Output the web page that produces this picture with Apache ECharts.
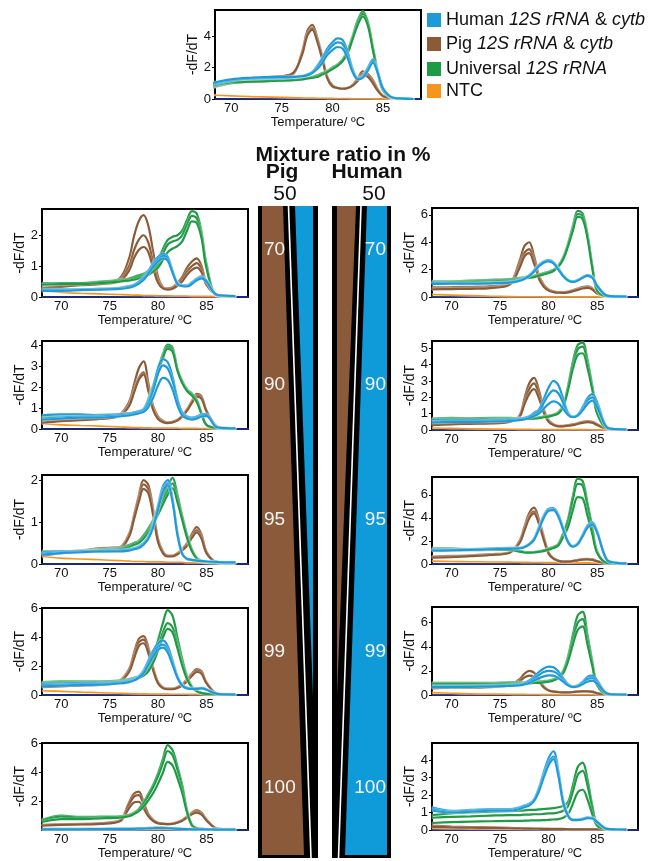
<!DOCTYPE html>
<html><head><meta charset="utf-8">
<script src="https://cdn.jsdelivr.net/npm/echarts@6/dist/echarts.min.js"></script>
<style>html,body{margin:0;padding:0;background:#fff}#c{width:652px;height:861px}</style>
</head><body><div id="c"></div>
<script>
// Temperature grid (°C)
const T = [68,70,72,74,76,77,77.5,78,78.5,79,79.5,80,80.5,81,81.5,82,82.5,83,83.5,84,84.5,85,86,87,88];
const xTicks = [70,75,80,85];

// ---- Reference panel (top) ----
const top_pig = [
 [0.7,1.0,1.15,1.3,1.5, 3.0,4.3,4.7,3.9,2.7, 1.4,0.85,0.7,0.65,0.7, 0.9,1.3,1.75,1.6,1.2, 0.6,0.2,0.05,0.02,0],
 [0.75,1.05,1.2,1.35,1.55, 2.9,4.1,4.5,3.75,2.6, 1.35,0.85,0.7,0.65,0.7, 0.85,1.2,1.6,1.5,1.1, 0.55,0.2,0.05,0.02,0],
 [0.8,1.1,1.25,1.4,1.6, 2.8,4.0,4.4,3.65,2.5, 1.3,0.8,0.7,0.65,0.7, 0.85,1.15,1.5,1.4,1.0, 0.5,0.18,0.05,0.02,0]];
const top_human = [
 [0.9,1.15,1.3,1.3,1.35, 1.45,1.55,1.7,2.1,2.6, 3.2,3.6,3.85,3.75,3.0, 1.9,1.35,1.45,2.0,2.5, 1.7,0.7,0.08,0.03,0],
 [0.95,1.2,1.3,1.35,1.4, 1.45,1.55,1.7,2.0,2.5, 3.0,3.4,3.6,3.5,2.8, 1.8,1.3,1.4,1.9,2.4, 1.65,0.68,0.08,0.03,0],
 [1.0,1.25,1.35,1.4,1.4, 1.45,1.5,1.65,1.9,2.3, 2.8,3.1,3.3,3.2,2.6, 1.7,1.25,1.35,1.8,2.3, 1.6,0.65,0.08,0.03,0]];
const top_uni = [
 [0.75,1.0,1.1,1.15,1.2, 1.3,1.35,1.4,1.5,1.65, 1.8,2.0,2.2,2.5,3.1, 4.0,5.0,5.55,4.9,3.3, 1.7,0.6,0.08,0.03,0],
 [0.8,1.05,1.1,1.15,1.2, 1.25,1.3,1.35,1.45,1.6, 1.75,1.95,2.15,2.45,3.0, 3.9,4.85,5.4,4.8,3.2, 1.65,0.55,0.08,0.03,0],
 [0.85,1.05,1.1,1.15,1.2, 1.25,1.3,1.35,1.4,1.55, 1.7,1.9,2.1,2.4,2.9, 3.8,4.7,5.25,4.65,3.1, 1.6,0.55,0.08,0.03,0]];
const top_ntc = [[0.25,0.2,0.15,0.12,0.09, 0.07,0.06,0.06,0.05,0.05, 0.04,0.04,0.03,0.03,0.03, 0.02,0.02,0.02,0.02,0.01, 0.01,0.01,0,0,0]];

// ---- Pig 70 ----
const L70_pig = [
 [0.3,0.35,0.4,0.45,0.6, 1.25,1.95,2.45,2.65,2.3, 1.45,0.65,0.32,0.28,0.32, 0.45,0.65,0.95,1.15,1.25, 1.0,0.45,0.08,0.05,0.03],
 [0.3,0.35,0.4,0.45,0.55, 1.0,1.5,1.85,2.0,1.75, 1.1,0.52,0.3,0.26,0.3, 0.4,0.58,0.82,1.0,1.1, 0.9,0.42,0.08,0.05,0.03],
 [0.28,0.33,0.38,0.42,0.5, 0.85,1.25,1.52,1.62,1.45, 0.92,0.46,0.28,0.24,0.27, 0.36,0.5,0.72,0.88,0.95, 0.8,0.4,0.08,0.05,0.03]];
const L70_human = [
 [0.25,0.25,0.25,0.27,0.3, 0.35,0.4,0.5,0.65,0.85, 1.1,1.3,1.4,1.3,0.85, 0.45,0.38,0.38,0.48,0.6, 0.67,0.54,0.08,0.04,0.03],
 [0.22,0.22,0.24,0.25,0.28, 0.33,0.38,0.47,0.6,0.8, 1.05,1.22,1.33,1.25,0.82, 0.44,0.36,0.36,0.45,0.57, 0.64,0.52,0.08,0.04,0.03],
 [0.2,0.2,0.22,0.24,0.26, 0.3,0.35,0.43,0.55,0.75, 0.98,1.15,1.25,1.18,0.78, 0.42,0.35,0.34,0.42,0.54, 0.6,0.5,0.08,0.04,0.03]];
const L70_uni = [
 [0.45,0.45,0.45,0.5,0.55, 0.6,0.65,0.7,0.75,0.85, 0.95,1.2,1.55,1.85,1.95, 2.0,2.15,2.5,2.78,2.7, 2.1,1.1,0.06,0.03,0.02],
 [0.4,0.45,0.45,0.48,0.52, 0.56,0.6,0.65,0.7,0.78, 0.88,1.05,1.4,1.7,1.8, 1.85,2.0,2.35,2.63,2.55, 2.0,1.0,0.06,0.03,0.02],
 [0.4,0.42,0.42,0.45,0.5, 0.53,0.56,0.6,0.65,0.72, 0.82,0.95,1.2,1.45,1.57, 1.65,1.8,2.15,2.45,2.4, 1.9,0.95,0.06,0.03,0.02]];
const L70_ntc = [[0.2,0.15,0.12,0.1,0.08, 0.07,0.06,0.06,0.05,0.05, 0.05,0.04,0.04,0.04,0.03, 0.03,0.03,0.03,0.02,0.02, 0.02,0.02,0.02,0.01,0.01]];

// ---- Human 70 ----
const R70_pig = [
 [0.7,0.72,0.75,0.8,1.05, 2.6,3.7,4.0,3.0,1.6, 0.9,0.55,0.42,0.36,0.35, 0.4,0.5,0.62,0.72,0.78, 0.65,0.3,0.05,0.02,0.02],
 [0.6,0.62,0.65,0.7,0.95, 2.3,3.2,3.5,2.65,1.45, 0.8,0.5,0.38,0.33,0.32, 0.36,0.45,0.56,0.66,0.72, 0.6,0.28,0.05,0.02,0.02],
 [0.55,0.58,0.6,0.65,0.9, 2.1,2.95,3.2,2.45,1.35, 0.75,0.47,0.36,0.31,0.3, 0.34,0.42,0.52,0.62,0.66, 0.55,0.26,0.05,0.02,0.02]];
const R70_human = [
 [1.0,1.0,1.0,1.05,1.1, 1.25,1.4,1.6,1.95,2.35, 2.6,2.7,2.55,2.1,1.6, 1.25,1.15,1.25,1.45,1.62, 1.45,0.85,0.1,0.04,0.03],
 [1.05,1.02,1.0,1.02,1.08, 1.2,1.35,1.55,1.9,2.3, 2.55,2.65,2.5,2.05,1.55, 1.22,1.12,1.22,1.42,1.58, 1.42,0.82,0.1,0.04,0.03],
 [0.95,0.98,0.98,1.0,1.05, 1.18,1.32,1.52,1.85,2.25, 2.5,2.6,2.45,2.0,1.52, 1.2,1.1,1.2,1.4,1.55, 1.4,0.8,0.1,0.04,0.03]];
const R70_uni = [
 [1.15,1.15,1.2,1.25,1.3, 1.4,1.45,1.5,1.55,1.65, 1.75,1.85,2.0,2.3,2.9, 3.9,5.2,6.3,6.1,4.6, 2.3,0.5,0.06,0.03,0.02],
 [1.1,1.1,1.15,1.2,1.25, 1.35,1.4,1.45,1.5,1.6, 1.7,1.8,1.95,2.25,2.8, 3.8,5.0,6.05,5.9,4.45, 2.2,0.48,0.06,0.03,0.02],
 [1.05,1.08,1.1,1.15,1.2, 1.3,1.35,1.4,1.45,1.55, 1.65,1.75,1.9,2.2,2.75, 3.7,4.85,5.85,5.7,4.3, 2.1,0.45,0.06,0.03,0.02]];
const R70_ntc = [[0.18,0.14,0.1,0.06,0.03, 0.02,0.02,0.02,0.02,0.02, 0.01,0.01,0.01,0.01,0.01, 0.01,0.01,0.01,0.01,0.01, 0.01,0.01,0.01,0.01,0.01]];

// ---- Pig 90 ----
const L90_pig = [
 [0.35,0.45,0.5,0.55,0.7, 1.3,2.1,2.9,3.25,2.2, 1.1,0.6,0.4,0.32,0.35, 0.45,0.65,0.95,1.35,1.68, 1.55,0.9,0.15,0.05,0.03],
 [0.3,0.4,0.45,0.5,0.65, 1.15,1.8,2.45,2.72,1.9, 0.95,0.5,0.35,0.3,0.33, 0.42,0.62,0.9,1.28,1.6, 1.5,0.88,0.15,0.05,0.03],
 [0.3,0.38,0.42,0.48,0.62, 1.1,1.72,2.35,2.62,1.82, 0.9,0.48,0.33,0.28,0.32, 0.4,0.6,0.88,1.25,1.54, 1.45,0.85,0.14,0.05,0.03]];
const L90_human = [
 [0.65,0.7,0.7,0.65,0.7, 0.75,0.8,0.85,0.95,1.3, 2.0,2.9,3.35,3.2,2.5, 1.45,0.8,0.6,0.55,0.6, 0.7,0.72,0.12,0.04,0.03],
 [0.5,0.55,0.6,0.6,0.65, 0.7,0.75,0.8,0.9,1.2, 1.85,2.65,3.05,2.9,2.3, 1.35,0.75,0.55,0.5,0.55, 0.65,0.68,0.12,0.04,0.03],
 [0.45,0.5,0.55,0.55,0.6, 0.65,0.7,0.75,0.82,1.05, 1.5,2.1,2.45,2.35,1.9, 1.15,0.65,0.5,0.45,0.5, 0.6,0.62,0.1,0.04,0.03]];
const L90_uni = [
 [0.6,0.6,0.65,0.68,0.7, 0.75,0.8,0.85,0.95,1.45, 2.1,2.9,3.6,4.05,3.9, 2.9,2.3,1.9,1.7,1.4, 0.75,0.2,0.05,0.03,0.02],
 [0.55,0.58,0.62,0.65,0.68, 0.72,0.77,0.82,0.92,1.4, 2.0,2.8,3.5,3.95,3.8, 2.85,2.25,1.85,1.65,1.35, 0.72,0.2,0.05,0.03,0.02],
 [0.5,0.55,0.6,0.62,0.65, 0.7,0.75,0.8,0.9,1.35, 1.95,2.7,3.4,3.85,3.7, 2.8,2.2,1.82,1.6,1.3, 0.7,0.2,0.05,0.03,0.02]];
const L90_ntc = [[0.25,0.2,0.17,0.14,0.1, 0.08,0.07,0.07,0.06,0.06, 0.05,0.05,0.05,0.04,0.04, 0.04,0.03,0.03,0.03,0.03, 0.02,0.02,0.02,0.02,0.02]];

// ---- Human 90 ----
const R90_pig = [
 [0.4,0.42,0.42,0.45,0.55, 0.9,1.9,2.85,3.2,2.45, 1.3,0.6,0.35,0.25,0.25, 0.3,0.35,0.42,0.5,0.55, 0.5,0.35,0.08,0.03,0.02],
 [0.35,0.38,0.4,0.42,0.52, 0.85,1.7,2.5,2.85,2.2, 1.2,0.55,0.33,0.24,0.24, 0.28,0.33,0.4,0.47,0.52, 0.48,0.33,0.08,0.03,0.02],
 [0.3,0.35,0.38,0.4,0.5, 0.8,1.55,2.2,2.5,1.95, 1.05,0.5,0.3,0.22,0.22, 0.26,0.3,0.37,0.44,0.48, 0.45,0.3,0.07,0.03,0.02]];
const R90_human = [
 [0.6,0.6,0.6,0.62,0.65, 0.7,0.75,0.85,1.05,1.25, 1.9,2.6,3.0,2.75,1.9, 1.05,0.8,0.95,1.4,1.95, 2.2,1.7,0.18,0.05,0.03],
 [0.5,0.55,0.55,0.58,0.6, 0.65,0.7,0.8,0.95,1.15, 1.65,2.15,2.43,2.25,1.65, 1.0,0.8,0.9,1.3,1.8, 2.0,1.55,0.17,0.05,0.03],
 [0.45,0.5,0.5,0.52,0.55, 0.6,0.65,0.72,0.85,1.0, 1.3,1.6,1.75,1.65,1.3, 0.92,0.78,0.88,1.2,1.6, 1.8,1.4,0.16,0.05,0.03]];
const R90_uni = [
 [0.7,0.75,0.72,0.75,0.75, 0.72,0.72,0.72,0.75,0.78, 0.82,0.88,0.95,1.1,1.5, 2.7,4.2,5.2,5.35,4.3, 2.7,1.1,0.1,0.03,0.02],
 [0.65,0.7,0.7,0.72,0.72, 0.7,0.7,0.7,0.72,0.75, 0.8,0.85,0.92,1.05,1.45, 2.6,4.0,4.95,5.1,4.1, 2.6,1.05,0.1,0.03,0.02],
 [0.6,0.65,0.65,0.68,0.7, 0.68,0.68,0.68,0.7,0.72, 0.78,0.82,0.9,1.0,1.4, 2.45,3.75,4.6,4.7,3.8, 2.45,1.0,0.1,0.03,0.02]];
const R90_ntc = [[0.12,0.1,0.08,0.06,0.05, 0.04,0.04,0.04,0.03,0.03, 0.03,0.03,0.02,0.02,0.02, 0.02,0.02,0.02,0.02,0.02, 0.01,0.01,0.01,0.01,0.01]];

// ---- Pig 95 ----
const L95_pig = [
 [0.25,0.3,0.32,0.38,0.4, 0.72,1.15,1.62,2.0,1.88, 1.3,0.6,0.3,0.2,0.2, 0.26,0.36,0.5,0.72,0.88, 0.7,0.3,0.05,0.03,0.02],
 [0.22,0.28,0.3,0.35,0.38, 0.68,1.1,1.55,1.9,1.78, 1.22,0.56,0.28,0.19,0.19, 0.24,0.34,0.46,0.66,0.8, 0.64,0.28,0.05,0.03,0.02],
 [0.2,0.26,0.28,0.33,0.36, 0.65,1.05,1.47,1.79,1.68, 1.15,0.52,0.26,0.18,0.18, 0.23,0.32,0.43,0.62,0.75, 0.6,0.26,0.05,0.03,0.02]];
const L95_human = [
 [0.28,0.3,0.3,0.32,0.33, 0.35,0.38,0.42,0.5,0.65, 0.95,1.4,1.85,2.0,1.55, 0.75,0.25,0.12,0.1,0.08, 0.07,0.06,0.05,0.04,0.04],
 [0.25,0.28,0.3,0.3,0.32, 0.34,0.36,0.4,0.48,0.62, 0.9,1.35,1.78,1.92,1.5, 0.72,0.24,0.12,0.1,0.08, 0.07,0.06,0.05,0.04,0.04],
 [0.22,0.26,0.28,0.3,0.3, 0.32,0.35,0.38,0.46,0.6, 0.88,1.3,1.72,1.88,1.48, 0.7,0.24,0.12,0.1,0.08, 0.07,0.06,0.05,0.04,0.04]];
const L95_uni = [
 [0.3,0.3,0.32,0.35,0.38, 0.45,0.5,0.55,0.68,0.85, 1.05,1.32,1.6,1.85,2.05, 1.65,1.15,0.7,0.35,0.15, 0.08,0.05,0.03,0.02,0.02],
 [0.28,0.3,0.3,0.33,0.36, 0.42,0.48,0.52,0.64,0.8, 1.0,1.25,1.5,1.75,1.92, 1.55,1.1,0.66,0.33,0.14, 0.08,0.05,0.03,0.02,0.02],
 [0.26,0.28,0.3,0.32,0.35, 0.4,0.45,0.5,0.6,0.75, 0.95,1.18,1.42,1.65,1.8, 1.48,1.05,0.62,0.3,0.13, 0.07,0.05,0.03,0.02,0.02]];
const L95_ntc = [[0.18,0.14,0.12,0.1,0.08, 0.07,0.06,0.06,0.06,0.05, 0.05,0.05,0.05,0.04,0.04, 0.04,0.04,0.03,0.03,0.03, 0.03,0.02,0.02,0.02,0.02]];

// ---- Human 95 ----
const R95_pig = [
 [0.65,0.7,0.75,0.85,1.05, 2.0,3.2,4.4,4.9,3.9, 2.4,1.0,0.5,0.3,0.22, 0.22,0.28,0.35,0.42,0.45, 0.4,0.25,0.05,0.03,0.02],
 [0.6,0.65,0.7,0.8,1.0, 1.85,2.95,4.1,4.55,3.6, 2.2,0.95,0.48,0.28,0.21, 0.21,0.26,0.33,0.4,0.43, 0.38,0.24,0.05,0.03,0.02],
 [0.55,0.6,0.68,0.78,0.98, 1.8,2.85,3.95,4.4,3.5, 2.1,0.9,0.46,0.27,0.2, 0.2,0.25,0.32,0.38,0.41, 0.36,0.23,0.05,0.03,0.02]];
const R95_human = [
 [1.25,1.25,1.3,1.35,1.4, 1.4,1.5,1.75,2.2,3.2, 4.2,4.8,4.85,4.3,3.1, 1.95,1.55,1.8,2.55,3.35, 3.62,2.85,0.38,0.1,0.05],
 [1.2,1.2,1.25,1.3,1.35, 1.38,1.48,1.72,2.15,3.1, 4.1,4.7,4.75,4.2,3.05, 1.92,1.52,1.75,2.45,3.25, 3.5,2.75,0.36,0.1,0.05],
 [1.15,1.18,1.22,1.28,1.32, 1.35,1.45,1.68,2.1,3.0, 4.0,4.62,4.68,4.1,3.0, 1.9,1.5,1.72,2.4,3.15, 3.42,2.7,0.35,0.1,0.05]];
const R95_uni = [
 [1.35,1.35,1.3,1.3,1.3, 1.15,1.05,1.02,1.05,1.1, 1.2,1.35,1.5,1.75,2.7, 3.9,5.9,7.4,7.2,5.3, 3.2,1.1,0.1,0.05,0.03],
 [1.3,1.3,1.28,1.28,1.28, 1.12,1.02,1.0,1.02,1.08, 1.18,1.3,1.45,1.7,2.6, 3.7,5.6,6.95,6.8,5.0, 3.0,1.05,0.1,0.05,0.03],
 [1.2,1.22,1.2,1.22,1.22, 1.08,1.0,0.98,1.0,1.05, 1.12,1.25,1.38,1.6,2.35, 3.2,4.7,5.8,5.7,4.2, 2.6,0.95,0.1,0.05,0.03]];
const R95_ntc = [[0.25,0.22,0.2,0.18,0.16, 0.15,0.14,0.14,0.13,0.13, 0.12,0.12,0.12,0.11,0.11, 0.1,0.1,0.1,0.1,0.1, 0.09,0.09,0.09,0.08,0.08]];

// ---- Pig 99 ----
const L99_pig = [
 [0.7,0.75,0.75,0.8,1.0, 1.8,2.9,3.9,4.1,3.3, 1.9,0.9,0.55,0.45,0.45, 0.55,0.75,1.1,1.5,1.8, 1.65,0.9,0.12,0.04,0.03],
 [0.6,0.65,0.7,0.75,0.95, 1.7,2.7,3.65,3.85,3.1, 1.8,0.85,0.5,0.42,0.42, 0.5,0.7,1.0,1.4,1.7, 1.55,0.85,0.12,0.04,0.03],
 [0.55,0.6,0.65,0.7,0.9, 1.6,2.5,3.4,3.6,2.9, 1.7,0.8,0.48,0.4,0.4, 0.48,0.66,0.95,1.32,1.6, 1.48,0.82,0.12,0.04,0.03]];
const L99_human = [
 [0.8,0.8,0.85,0.85,0.9, 1.0,1.1,1.3,1.7,2.4, 3.1,3.6,3.8,3.4,2.4, 1.3,0.7,0.5,0.45,0.45, 0.5,0.4,0.1,0.04,0.03],
 [0.7,0.72,0.75,0.78,0.85, 0.95,1.05,1.25,1.6,2.25, 2.9,3.35,3.5,3.15,2.25, 1.25,0.68,0.48,0.44,0.44, 0.48,0.38,0.1,0.04,0.03],
 [0.6,0.65,0.7,0.72,0.8, 0.9,1.0,1.2,1.5,2.1, 2.7,3.15,3.3,2.95,2.1, 1.2,0.65,0.46,0.42,0.42, 0.46,0.36,0.1,0.04,0.03]];
const L99_uni = [
 [0.9,0.95,0.95,0.95,1.0, 1.1,1.2,1.3,1.5,1.9, 2.7,3.8,5.0,5.9,5.5, 4.0,2.5,1.3,0.6,0.3, 0.15,0.08,0.04,0.03,0.02],
 [0.85,0.9,0.9,0.92,0.95, 1.05,1.12,1.22,1.4,1.75, 2.4,3.3,4.35,5.0,4.7, 3.5,2.2,1.15,0.55,0.28, 0.14,0.08,0.04,0.03,0.02],
 [0.8,0.85,0.85,0.88,0.9, 1.0,1.08,1.18,1.35,1.65, 2.25,3.1,4.0,4.6,4.35, 3.25,2.05,1.1,0.52,0.26, 0.13,0.08,0.04,0.03,0.02]];
const L99_ntc = [[0.3,0.25,0.2,0.16,0.12, 0.1,0.09,0.08,0.08,0.07, 0.07,0.06,0.06,0.06,0.05, 0.05,0.05,0.05,0.04,0.04, 0.04,0.04,0.03,0.03,0.03]];

// ---- Human 99 ----
const R99_pig = [
 [0.6,0.65,0.65,0.7,0.85, 1.3,1.75,2.0,1.85,1.3, 0.7,0.4,0.3,0.25,0.22, 0.22,0.25,0.3,0.32,0.32, 0.28,0.15,0.04,0.02,0.02],
 [0.55,0.6,0.6,0.65,0.8, 1.15,1.45,1.6,1.5,1.1, 0.62,0.38,0.28,0.24,0.21, 0.21,0.24,0.28,0.3,0.3, 0.26,0.14,0.04,0.02,0.02]];
const R99_human = [
 [0.75,0.75,0.75,0.8,0.85, 0.9,1.0,1.2,1.5,1.9, 2.2,2.35,2.3,1.95,1.4, 0.9,0.7,0.8,1.1,1.5, 1.6,1.2,0.15,0.04,0.03],
 [0.7,0.7,0.72,0.75,0.8, 0.85,0.95,1.1,1.35,1.65, 1.9,2.0,1.95,1.7,1.25, 0.85,0.68,0.75,1.0,1.3, 1.4,1.05,0.14,0.04,0.03],
 [0.65,0.65,0.68,0.7,0.75, 0.8,0.88,1.0,1.2,1.4, 1.55,1.62,1.6,1.4,1.1, 0.8,0.65,0.7,0.9,1.1, 1.2,0.95,0.13,0.04,0.03]];
const R99_uni = [
 [1.0,1.0,1.0,1.0,1.05, 1.05,1.05,1.05,1.1,1.1, 1.15,1.2,1.3,1.5,2.0, 3.2,5.0,6.6,6.9,5.0, 2.8,0.9,0.08,0.03,0.02],
 [0.95,0.95,0.95,0.95,1.0, 1.0,1.0,1.0,1.05,1.05, 1.1,1.15,1.25,1.45,1.9, 3.0,4.6,6.0,6.3,4.6, 2.6,0.85,0.08,0.03,0.02],
 [0.9,0.9,0.9,0.9,0.95, 0.95,0.95,0.95,1.0,1.0, 1.05,1.1,1.2,1.4,1.8, 2.8,4.2,5.4,5.7,4.2, 2.4,0.8,0.08,0.03,0.02]];
const R99_ntc = [[0.2,0.15,0.1,0.08,0.06, 0.05,0.05,0.04,0.04,0.04, 0.03,0.03,0.03,0.03,0.02, 0.02,0.02,0.02,0.02,0.02, 0.02,0.01,0.01,0.01,0.01]];

// ---- Pig 100 ----
const L100_pig = [
 [0.35,0.4,0.42,0.48,0.65, 1.9,2.5,2.65,1.95,1.1, 0.7,0.5,0.45,0.42,0.45, 0.55,0.7,0.95,1.2,1.38, 1.2,0.75,0.12,0.05,0.03],
 [0.32,0.38,0.4,0.45,0.62, 1.75,2.3,2.4,1.8,1.05, 0.66,0.48,0.43,0.4,0.43, 0.52,0.66,0.9,1.12,1.28, 1.12,0.7,0.12,0.05,0.03],
 [0.3,0.35,0.38,0.42,0.58, 1.5,1.9,1.95,1.5,0.95, 0.62,0.46,0.42,0.4,0.42, 0.5,0.64,0.86,1.08,1.2, 1.06,0.66,0.11,0.05,0.03]];
const L100_human = [
 [0.08,0.08,0.08,0.08,0.1, 0.1,0.1,0.12,0.12,0.14, 0.15,0.17,0.17,0.15,0.12, 0.1,0.08,0.07,0.06,0.06, 0.05,0.05,0.04,0.03,0.03],
 [0.05,0.05,0.05,0.06,0.07, 0.07,0.08,0.09,0.1,0.11, 0.12,0.13,0.13,0.12,0.1, 0.08,0.07,0.06,0.05,0.05, 0.04,0.04,0.03,0.03,0.03]];
const L100_uni = [
 [0.7,1.0,0.9,0.92,0.95, 1.05,1.2,1.45,1.9,2.5, 3.1,3.9,4.9,5.85,5.5, 4.4,3.1,1.35,0.35,0.12, 0.08,0.05,0.03,0.02,0.02],
 [0.65,0.92,0.85,0.88,0.9, 1.0,1.15,1.4,1.8,2.35, 2.95,3.7,4.6,5.45,5.15, 4.15,2.9,1.3,0.34,0.12, 0.08,0.05,0.03,0.02,0.02],
 [0.55,0.75,0.75,0.8,0.85, 0.95,1.1,1.3,1.6,2.05, 2.55,3.2,3.95,4.7,4.45, 3.6,2.55,1.2,0.32,0.12, 0.08,0.05,0.03,0.02,0.02]];
const L100_ntc = [[0.03,0.03,0.03,0.03,0.03, 0.03,0.03,0.03,0.03,0.03, 0.03,0.03,0.03,0.03,0.03, 0.03,0.03,0.03,0.03,0.03, 0.03,0.03,0.03,0.03,0.03]];

// ---- Human 100 ----
const R100_pig = [
 [0.25,0.2,0.17,0.15,0.12, 0.1,0.1,0.09,0.08,0.08, 0.07,0.07,0.06,0.06,0.06, 0.05,0.05,0.05,0.05,0.04, 0.04,0.03,0.02,0.02,0.02],
 [0.18,0.15,0.13,0.12,0.1, 0.09,0.08,0.08,0.07,0.07, 0.06,0.06,0.05,0.05,0.05, 0.04,0.04,0.04,0.04,0.04, 0.03,0.03,0.02,0.02,0.02]];
const R100_human = [
 [1.3,1.1,1.15,1.2,1.2, 1.3,1.4,1.5,1.75,2.4, 3.3,4.1,4.5,3.4,1.7, 0.85,0.6,0.6,0.65,0.72, 0.7,0.48,0.06,0.03,0.02],
 [1.2,1.05,1.1,1.15,1.15, 1.25,1.35,1.45,1.7,2.3, 3.1,3.85,4.2,3.2,1.6, 0.82,0.58,0.58,0.62,0.7, 0.68,0.46,0.06,0.03,0.02],
 [1.1,1.0,1.05,1.1,1.1, 1.2,1.3,1.4,1.65,2.2, 3.0,3.7,4.05,3.1,1.55, 0.8,0.56,0.56,0.6,0.68, 0.66,0.45,0.06,0.03,0.02]];
const R100_uni = [
 [0.85,0.95,1.0,1.05,1.08, 1.1,1.12,1.15,1.15,1.18, 1.2,1.22,1.25,1.3,1.38, 1.6,2.55,3.6,3.85,2.9, 1.4,0.35,0.06,0.03,0.02],
 [0.7,0.75,0.78,0.82,0.85, 0.85,0.88,0.88,0.9,0.9, 0.92,0.95,0.95,1.0,1.1, 1.35,2.2,3.15,3.38,2.55, 1.25,0.32,0.06,0.03,0.02],
 [0.4,0.45,0.48,0.5,0.52, 0.52,0.53,0.54,0.55,0.55, 0.56,0.58,0.6,0.62,0.7, 0.9,1.5,2.15,2.3,1.75, 0.9,0.25,0.05,0.03,0.02]];
const R100_ntc = [[0.1,0.09,0.08,0.07,0.06, 0.05,0.05,0.05,0.05,0.04, 0.04,0.04,0.04,0.04,0.04, 0.03,0.03,0.03,0.03,0.03, 0.03,0.03,0.02,0.02,0.02]];

// y tick labels per panel
const yTicks_top=[0,2,4], yTicks_L70=[0,1,2], yTicks_R70=[0,2,4,6], yTicks_L90=[0,1,2,3,4], yTicks_R90=[0,1,2,3,4,5],
      yTicks_L95=[0,1,2], yTicks_R95=[0,2,4,6], yTicks_L99=[0,2,4,6], yTicks_R99=[0,2,4,6], yTicks_L100=[2,4,6], yTicks_R100=[0,1,2,3,4];

const ratioLabels = ['70','90','95','99','100'];

// ---------- layout / styles ----------
const FONT = 'Liberation Sans, Arial, Helvetica, sans-serif';
const COL = {pig:'#8b5a36', human:'#1d9ad8', uni:'#1f9a45', ntc:'#f7941d'};

const panels = [
 {g:[215,10,206,89],  x:[68.4,88.75], ymax:5.65, yt:yTicks_top,  d:[top_ntc,top_pig,top_uni,top_human], yg:15},
 {g:[42,209,206,88],  x:[68,89.3], ymax:2.85, yt:yTicks_L70,  d:[L70_ntc,L70_pig,L70_uni,L70_human]},
 {g:[432,208,206,89], x:[68,89.2], ymax:6.5,  yt:yTicks_R70,  d:[R70_ntc,R70_pig,R70_uni,R70_human]},
 {g:[42,341,206,88],  x:[68,89.3], ymax:4.22, yt:yTicks_L90,  d:[L90_ntc,L90_pig,L90_uni,L90_human]},
 {g:[432,341,206,89], x:[68,89.2], ymax:5.45, yt:yTicks_R90,  d:[R90_ntc,R90_pig,R90_uni,R90_human]},
 {g:[42,475,206,89],  x:[68,89.3], ymax:2.12, yt:yTicks_L95,  d:[L95_ntc,L95_pig,L95_uni,L95_human]},
 {g:[432,477,206,87], x:[68,89.2], ymax:7.55, yt:yTicks_R95,  d:[R95_ntc,R95_pig,R95_uni,R95_human]},
 {g:[42,608,206,87],  x:[68,89.3], ymax:6.05, yt:yTicks_L99,  d:[L99_ntc,L99_pig,L99_uni,L99_human]},
 {g:[432,607,206,88], x:[68,89.2], ymax:7.3,  yt:yTicks_R99,  d:[R99_ntc,R99_pig,R99_uni,R99_human]},
 {g:[42,743,206,87],  x:[68,89.3], ymax:6.0,  yt:yTicks_L100, d:[L100_ntc,L100_pig,L100_uni,L100_human]},
 {g:[432,743,206,87], x:[68,89.2], ymax:4.97, yt:yTicks_R100, d:[R100_ntc,R100_pig,R100_uni,R100_human]}
];
const seriesColors = [COL.ntc, COL.pig, COL.uni, COL.human];

const grid=[], xAxis=[], yAxis=[], series=[];
panels.forEach((p,i)=>{
  grid.push({left:p.g[0], top:p.g[1], width:p.g[2], height:p.g[3], show:true, borderColor:'#000', borderWidth:2, backgroundColor:'transparent', containLabel:false});
  xAxis.push({type:'value', gridIndex:i, min:p.x[0], max:p.x[1],
    axisLine:{show:true, onZero:false, lineStyle:{color:'#1c2a7e', width:2}},
    axisTick:{show:false}, splitLine:{show:false},
    axisLabel:{customValues:xTicks, fontSize:13, fontFamily:FONT, color:'#111', margin:3},
    name:'Temperature/ ºC', nameLocation:'middle', nameGap:16,
    nameTextStyle:{fontSize:13, fontFamily:FONT, color:'#111'}});
  yAxis.push({type:'value', gridIndex:i, min:0, max:p.ymax,
    axisLine:{show:true, lineStyle:{color:'#000', width:2}},
    axisTick:{show:true, customValues:p.yt, length:3, lineStyle:{color:'#000'}},
    splitLine:{show:false},
    axisLabel:{customValues:p.yt, fontSize:13, fontFamily:FONT, color:'#111', margin:4},
    name:'-dF/dT', nameLocation:'middle', nameRotate:90, nameGap:p.yg||14,
    nameTextStyle:{fontSize:14, fontFamily:FONT, color:'#111'}});
  p.d.forEach((group,gi)=>{
    group.forEach(rep=>{
      series.push({type:'line', xAxisIndex:i, yAxisIndex:i, symbol:'none', smooth:0.35, silent:true,
        data:T.map((t,k)=>[t,rep[k]]),
        lineStyle:{color:seriesColors[gi], width: gi===0?1.6:2.2, shadowColor:'rgba(255,255,255,0.9)', shadowBlur:1.5},
        z:2+gi});
    });
  });
});

// ---- graphic: legend, headings, ratio bars ----
const legendItems = [
  {c:COL.human, t:'{n|Human }{i|12S rRNA}{n| & }{i|cytb}', y:20},
  {c:COL.pig,   t:'{n|Pig }{i|12S rRNA}{n| & }{i|cytb}', y:44},
  {c:COL.uni,   t:'{n|Universal }{i|12S rRNA}', y:69},
  {c:COL.ntc,   t:'{n|NTC}', y:91}
];
const rich = {n:{fontSize:18, fontFamily:FONT, fill:'#111', color:'#111'}, i:{fontSize:18, fontFamily:FONT, fontStyle:'italic', fill:'#111', color:'#111'}};
const graphic = [];
legendItems.forEach(it=>{
  graphic.push({type:'rect', shape:{x:427, y:it.y-7, width:14, height:14}, style:{fill:it.c}});
  graphic.push({type:'text', x:446, y:it.y, style:{text:it.t, rich:rich, verticalAlign:'middle', textVerticalAlign:'middle', fill:'#111'}});
});
const txt=(s,x,y,size,weight,align,color)=>({type:'text', x, y, style:{text:s, font:(weight||'normal')+' '+size+'px '+FONT, fill:color||'#111', align:align||'center', textAlign:align||'center', verticalAlign:'middle', textVerticalAlign:'middle'}});
graphic.push(txt('Mixture ratio in %',343,155,21,'bold'));
graphic.push(txt('Pig',282,172,21,'bold'));
graphic.push(txt('Human',367,172,21,'bold'));
graphic.push(txt('50',285,194,21,'normal'));
graphic.push(txt('50',374,194,21,'normal'));

// bars (decorative wedges)
const BAR_TOP=206, BAR_BOT=858;
graphic.push({type:'rect', shape:{x:258, y:BAR_TOP, width:60, height:BAR_BOT-BAR_TOP}, style:{fill:'#000'}});
graphic.push({type:'polygon', shape:{points:[[262,BAR_TOP],[283,BAR_TOP],[304,BAR_BOT-3],[262,BAR_BOT-3]]}, style:{fill:'#8b5a3a'}});
graphic.push({type:'polygon', shape:{points:[[295,BAR_TOP],[313,BAR_TOP],[313,697]]}, style:{fill:'#0f9bd9'}});
graphic.push({type:'line', shape:{x1:288.5, y1:BAR_TOP, x2:311, y2:BAR_BOT}, style:{stroke:'#fff', lineWidth:1.6}});
graphic.push({type:'rect', shape:{x:332, y:BAR_TOP, width:59, height:BAR_BOT-BAR_TOP}, style:{fill:'#000'}});
graphic.push({type:'polygon', shape:{points:[[337,BAR_TOP],[356,BAR_TOP],[337,697]]}, style:{fill:'#8b5a3a'}});
graphic.push({type:'polygon', shape:{points:[[367,BAR_TOP],[387,BAR_TOP],[387,BAR_BOT-3],[345,BAR_BOT-3]]}, style:{fill:'#0f9bd9'}});
graphic.push({type:'line', shape:{x1:361, y1:BAR_TOP, x2:338.5, y2:BAR_BOT}, style:{stroke:'#fff', lineWidth:1.6}});
const ratioY = [250,385,520,652,788];
ratioLabels.forEach((r,k)=>{
  graphic.push(txt(r,264,ratioY[k],19,'normal','left','#f4f4f4'));
  graphic.push(txt(r,386,ratioY[k],19,'normal','right','#f4f4f4'));
});

const chart = echarts.init(document.getElementById('c'), null, {renderer:'canvas'});
chart.setOption({animation:false, backgroundColor:'#fff', grid, xAxis, yAxis, series, graphic});
</script></body></html>
